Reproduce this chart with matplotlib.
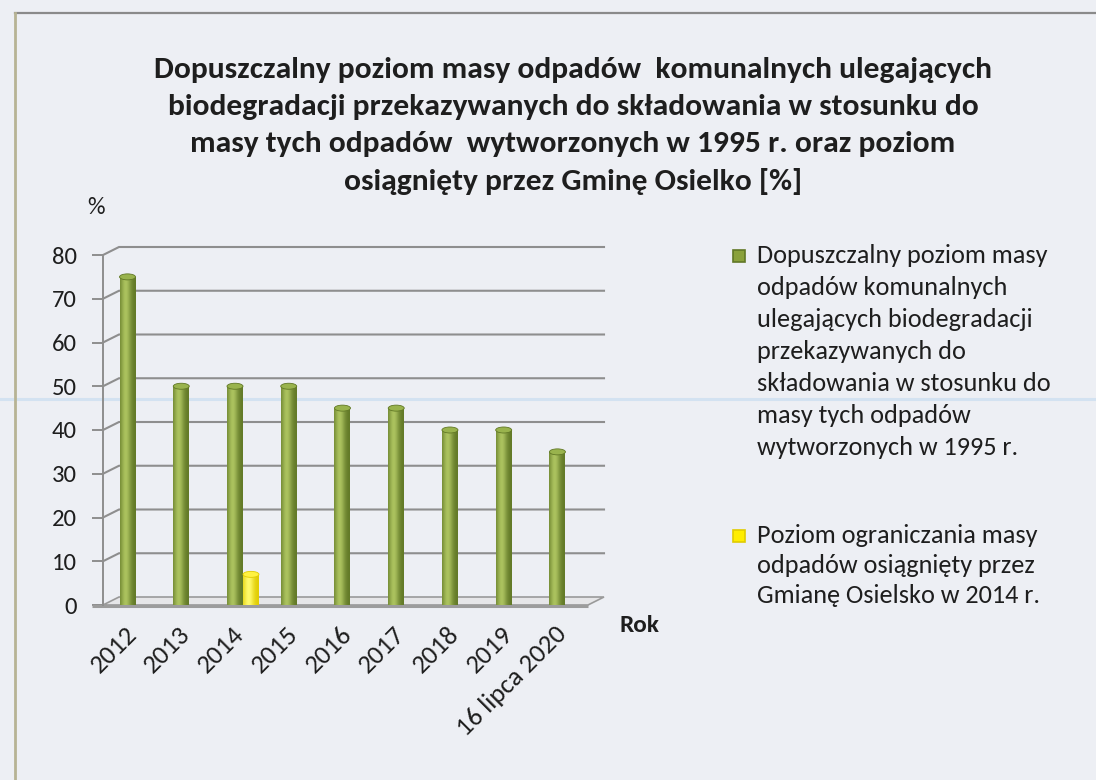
import numpy as np
import matplotlib
matplotlib.use("Agg")
import matplotlib.pyplot as plt
from matplotlib.patches import Polygon, Rectangle, Ellipse
from matplotlib.lines import Line2D
from matplotlib import font_manager
import matplotlib.transforms as mtransforms

# ---------------- data ----------------
categories = ["2012", "2013", "2014", "2015", "2016", "2017", "2018", "2019", "16 lipca 2020"]
limit_values = [75, 50, 50, 50, 45, 45, 40, 40, 35]
achieved_values = [np.nan, np.nan, 7, np.nan, np.nan, np.nan, np.nan, np.nan, np.nan]
y_ticks = [0, 10, 20, 30, 40, 50, 60, 70, 80]

title_lines = [
    "Dopuszczalny poziom masy odpadów  komunalnych ulegających",
    "biodegradacji przekazywanych do składowania w stosunku do",
    "masy tych odpadów  wytworzonych w 1995 r. oraz poziom",
    "osiągnięty przez Gminę Osielko [%]",
]
legend_limit_lines = [
    "Dopuszczalny poziom masy",
    "odpadów komunalnych",
    "ulegających biodegradacji",
    "przekazywanych do",
    "składowania w stosunku do",
    "masy tych odpadów",
    "wytworzonych w 1995 r.",
]
legend_achieved_lines = [
    "Poziom ograniczania masy",
    "odpadów osiągnięty przez",
    "Gmianę Osielsko w 2014 r.",
]
y_label = "%"
x_label = "Rok"

# ---------------- style ----------------
avail = {f.name for f in font_manager.fontManager.ttflist}
FONT = next(f for f in ["Carlito", "Lato", "Open Sans", "DejaVu Sans"] if f in avail)
plt.rcParams['font.family'] = [FONT, 'DejaVu Sans']

BG = '#edeff4'
TXT = '#1e1e1e'
GRID = '#8e8e8e'
W, H = 1096, 780


def fx(px):
    return px / W


def fy(py):
    return 1 - py / H


fig = plt.figure(figsize=(W / 100, H / 100), dpi=100, facecolor=BG)
renderer = fig.canvas.get_renderer()


def fit(text, target_px, weight='normal', base=15.0):
    t = fig.text(0, 0, text, fontsize=base, fontweight=weight)
    w = t.get_window_extent(renderer).width
    t.remove()
    return base * target_px / w


# scan artefacts / frame
fig.add_artist(Line2D([0, 1], [fy(399), fy(399)], transform=fig.transFigure,
                      color='#d3e2f1', lw=2.2, zorder=-5))
fig.add_artist(Line2D([fx(15), 1], [fy(13), fy(13)], transform=fig.transFigure,
                      color='#8a8a8a', lw=1.6, zorder=-4))
fig.add_artist(Line2D([fx(15), fx(15)], [fy(13), 0], transform=fig.transFigure,
                      color='#b7b394', lw=2.0, zorder=-4))

# ---------------- title ----------------
title_size = fit(title_lines[0], 836, 'bold', 18)
for i, line in enumerate(title_lines):
    fig.text(fx(573), fy(78 + 37.2 * i), line, ha='center', va='baseline',
             fontsize=title_size, fontweight='bold', color=TXT)

# ---------------- axes ----------------
AX_L, AX_R, AX_B, AX_T = 103, 588, 605, 255
ax = fig.add_axes([fx(AX_L), fy(AX_B), (AX_R - AX_L) / W, (AX_B - AX_T) / H])
ax.set_facecolor('none')
xmin, xmax = -0.605, 8.42
ymax = y_ticks[-1]
ax.set_xlim(xmin, xmax)
ax.set_ylim(0, ymax)
px_x = (AX_R - AX_L) / (xmax - xmin)
px_y = (AX_B - AX_T) / ymax
ddx = 16 / px_x
ddy = 8 / px_y

for s in ['top', 'right', 'bottom']:
    ax.spines[s].set_visible(False)
ax.spines['left'].set_color(GRID)
ax.spines['left'].set_linewidth(1.4)

# back-wall gridlines with depth connectors
for v in y_ticks[1:]:
    ax.plot([xmin, xmin + ddx, xmax + ddx], [v, v + ddy, v + ddy],
            color=GRID, lw=1.5, zorder=1, clip_on=False, solid_joinstyle='miter')

# floor
floor = Polygon([(xmin, 0), (xmax, 0), (xmax + ddx, ddy), (xmin + ddx, ddy)],
                closed=True, facecolor='#e6e6e8', edgecolor='#9a9a9a', lw=1.2,
                zorder=1.5, clip_on=False)
ax.add_patch(floor)
ax.plot([xmin - 11 / px_x, xmax], [-0.15, -0.15], color='#9c9c9c', lw=2.2,
        zorder=1.6, clip_on=False, solid_capstyle='butt')

# bars (cylinders)
x = np.arange(len(categories))
bw = 16 / px_x
cap_h = 6 / px_y

green = dict(dark=(0.38, 0.47, 0.15), mid=(0.54, 0.63, 0.23), light=(0.67, 0.76, 0.37),
             cap=(0.60, 0.70, 0.30))
yellow = dict(dark=(0.88, 0.80, 0.0), mid=(1.0, 0.93, 0.0), light=(1.0, 0.98, 0.42),
              cap=(1.0, 0.95, 0.25))

c1 = ax.bar(x - bw / 2, limit_values, width=bw, color='#8aa03a', linewidth=0, zorder=3)
c2 = ax.bar(x + bw / 2, achieved_values, width=bw, color='#ffee00', linewidth=0, zorder=3)


def shade(container, pal):
    t = np.linspace(0, 1, 90)
    s = np.exp(-((t - 0.36) / 0.33) ** 2)
    cols = np.array(pal['dark'])[None, :] * (1 - s[:, None]) + np.array(pal['light'])[None, :] * s[:, None]
    img = cols[None, :, :]
    for p in container.patches:
        h = p.get_height()
        if not np.isfinite(h) or h <= 0:
            continue
        x0 = p.get_x()
        w = p.get_width()
        im = ax.imshow(img, extent=[x0, x0 + w, 0, h], aspect='auto',
                       interpolation='bilinear', zorder=3.1)
        im.set_clip_path(p)
        ax.add_patch(Ellipse((x0 + w / 2, h), w, cap_h, facecolor=pal['cap'],
                             edgecolor=pal['dark'], lw=0.6, zorder=3.2))


shade(c1, green)
shade(c2, yellow)
ax.set_xlim(xmin, xmax)
ax.set_ylim(0, ymax)

# ticks
tick_fs = fit("80", 25, 'normal', 15)
ax.set_yticks(y_ticks)
ax.tick_params(axis='y', length=8, width=1.4, color=GRID, pad=11,
               labelsize=tick_fs, labelcolor=TXT)
ax.set_xticks(x)
ax.set_xticklabels(categories, rotation=45, ha='right', rotation_mode='anchor',
                   fontsize=tick_fs * 1.08, color=TXT)
ax.tick_params(axis='x', length=0, pad=12)
shift = mtransforms.ScaledTranslation(-11 / 100, 0, fig.dpi_scale_trans)
for lbl in ax.get_xticklabels():
    lbl.set_transform(lbl.get_transform() + shift)

fig.text(fx(96), fy(207), y_label, ha='center', va='center', fontsize=tick_fs, color=TXT)
rok_fs = fit(x_label, 40, 'bold', 15)
fig.text(fx(639), fy(632), x_label, ha='center', va='baseline', fontsize=rok_fs,
         fontweight='bold', color=TXT)

# ---------------- legend ----------------
leg_fs = fit(legend_limit_lines[0], 291, 'normal', 15)


def legend_entry(lines, base_y, pitch, pal, sq_y):
    sq = Rectangle((fx(733), fy(sq_y + 12)), 12 / W, 12 / H, transform=fig.transFigure,
                   facecolor=pal['mid'], edgecolor=pal['dark'], lw=1.2)
    fig.add_artist(sq)
    for i, line in enumerate(lines):
        fig.text(fx(757), fy(base_y + pitch * i), line, ha='left', va='baseline',
                 fontsize=leg_fs, color=TXT)


legend_entry(legend_limit_lines, 263, 32.0, green, 250)
legend_entry(legend_achieved_lines, 543, 30.0, yellow, 530)

fig.savefig('out.png', dpi=100, facecolor=fig.get_facecolor())
